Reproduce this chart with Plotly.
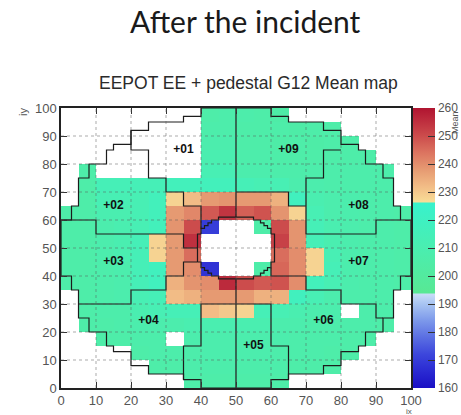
import plotly.graph_objects as go

FIG_TITLE = "After the incident"
MAP_TITLE = "EEPOT EE + pedestal G12 Mean map"
X_LABEL = "ix"
Y_LABEL = "iy"
Z_LABEL = "Mean"

# Mean pedestal per supercrystal (5x5 crystals), rows from iy 96-100 (top) down to iy 1-5
MEAN_ROWS_TOP_DOWN = [
    [None, None, None, None, None, None, None, None, 206, 207, 207, 206, 205, None, None, None, None, None, None, None],
    [None, None, None, None, None, None, None, None, 207, 207, 206, 206, 206, 205, 206, 206, None, None, None, None],
    [None, None, None, None, None, None, None, None, 208, 208, 206, 206, 205, 206, 205, 206, 206, None, None, None],
    [None, None, None, None, None, None, None, None, 210, 210, 207, 207, 206, 206, 206, 206, 206, 206, None, None],
    [None, 206, None, None, None, None, None, None, 212, 212, 208, 208, 207, 207, 207, 207, 207, 207, 207, None],
    [None, 206, 214, 214, 214, 214, 216, 216, 216, 216, 214, 212, 212, 208, 208, 207, 207, 207, 207, None],
    [None, 206, 212, 212, 212, 216, 228, 232, 238, 239, 238, 238, 234, 218, 210, 208, 208, 207, 207, None],
    [206, 206, 210, 210, 212, 216, 238, 241, 248, 254, 247, 249, 239, 228, 212, 208, 208, 207, 207, 206],
    [206, 206, 208, 210, 212, 216, 239, 250, 170, None, None, 206, 250, 239, 214, 210, 208, 207, 207, 206],
    [206, 206, 208, 210, 214, 228, 238, 255, None, None, None, None, 252, 239, 214, 210, 208, 207, 207, 206],
    [206, 206, 208, 210, 214, 228, 238, 245, None, None, None, None, 245, 240, 228, 212, 208, 207, 207, 206],
    [206, 206, 207, 208, 214, 218, 238, 240, 168, None, None, 206, 246, 240, 228, 214, 208, 207, 207, 206],
    [206, 206, 207, 208, 214, 218, 234, 239, 240, 256, 250, 248, 249, 240, 216, 212, 208, 207, 207, 206],
    [None, 206, 207, 208, 212, 214, 232, 234, 238, 238, 238, 234, 234, 218, 212, 208, 207, 207, 207, None],
    [None, 206, 207, 207, 210, 212, 214, 214, 232, 230, 228, 214, 212, 210, 208, 208, None, 207, 207, None],
    [None, 206, 206, 207, 208, 208, 208, 210, 210, 210, 210, 210, 208, 208, 207, 207, 207, 207, 206, None],
    [None, None, 206, 206, 207, 207, None, 208, 208, 208, 208, 208, 208, 207, 207, 207, 206, 206, None, None],
    [None, None, None, None, 206, 207, 207, 207, 208, 208, 208, 208, 207, 207, 207, 206, 206, None, None, None],
    [None, None, None, None, None, 206, 206, 207, 207, 207, 207, 207, 207, 206, 206, 206, None, None, None, None],
    [None, None, None, None, None, None, None, 206, 206, 206, 206, 206, 206, None, None, None, None, None, None, None],
]

SC_CENTERS = [2.5 + 5 * k for k in range(20)]
AXIS_TICKS = list(range(0, 101, 10))
CBAR_TICKS = list(range(160, 261, 10))
Z_MIN, Z_MAX = 160, 260

# EE+ crystal layout: ix bands of the left half and the lowest valid crystal edge in iy
OUTER_BAND_X = [0, 3, 5, 8, 13, 15, 20, 25, 35, 40, 50]
OUTER_BAND_YLO = [40, 35, 25, 20, 15, 13, 8, 5, 3, 0]
# inner hole: ix bands and the lower edge of the missing crystals
HOLE_BAND_X = [39, 40, 41, 42, 43, 45, 55, 57, 58, 59, 60, 61]
HOLE_BAND_YLO = [45, 43, 42, 41, 40, 39, 40, 41, 42, 43, 45]

# sector and Dee boundaries (crystal edges)
LINE_01_02_X = [20, 20, 25, 25, 30, 30, 35, 35, 40, 40]
LINE_01_02_Y = [92, 85, 85, 75, 75, 70, 70, 65, 65, 57]
LINE_02_03_X = [0, 10, 10, 35, 35, 39]
LINE_02_03_Y = [60, 60, 55, 55, 50, 50]
LINE_03_04_X = [5, 20, 20, 30, 30, 35, 35, 39]
LINE_03_04_Y = [30, 30, 35, 35, 40, 40, 45, 45]
LINE_04_05_X = [35, 35, 40, 40, 50]
LINE_04_05_Y = [3, 15, 15, 30, 30]
LINE_05_06_X = [50, 60, 60, 65, 65]
LINE_05_06_Y = [30, 30, 15, 15, 3]
LINE_06_07_X = [60, 60, 70, 70, 80, 80, 90, 90, 92]
LINE_06_07_Y = [43, 40, 40, 35, 35, 30, 30, 25, 25]
LINE_07_08_X = [70, 70, 90, 90, 97]
LINE_07_08_Y = [65, 55, 55, 60, 60]
LINE_07_09_X = [50, 65, 65, 70]
LINE_07_09_Y = [70, 70, 65, 65]
LINE_08_09_X = [70, 70, 75, 75, 80]
LINE_08_09_Y = [65, 75, 75, 85, 85]
DEE_TOP_X = [50, 50]
DEE_TOP_Y = [61, 100]
DEE_BOTTOM_X = [50, 50]
DEE_BOTTOM_Y = [0, 39]

SECTOR_NAMES = ["+01", "+02", "+03", "+04", "+05", "+06", "+07", "+08", "+09"]
SECTOR_LABEL_X = [35, 15, 15, 25, 55, 75, 85, 85, 65]
SECTOR_LABEL_Y = [85, 65, 45, 24, 15, 24, 45, 65, 85]

COLORSCALE_STOPS = [
    (160, "#1a0fc4"), (166, "#2a2ad2"), (172, "#3c46dc"), (178, "#5a6ee2"),
    (184, "#7c98ea"), (190, "#a8c4f2"), (193.5, "#c8dcf8"), (194, "#58e894"),
    (210, "#4aeeb0"), (226, "#38f2cc"), (226.5, "#f8dc96"), (232, "#f2bc86"),
    (238, "#e69a72"), (244, "#dc7460"), (250, "#cc4c4c"), (256, "#bc2a3c"),
    (260, "#b01430"),
]

# plot frame in pixels
FIG_W, FIG_H = 461, 415
PLOT_L, PLOT_R, PLOT_T, PLOT_B = 61, 411, 108, 388


def staircase(band_x, band_lo):
    """Closed outline of a region bounded below by band_lo and above by its mirror 100 - lo."""
    xs, ys = [], []
    for k, lo in enumerate(band_lo):
        xs += [band_x[k], band_x[k + 1]]
        ys += [lo, lo]
    for k in range(len(band_lo) - 1, -1, -1):
        xs += [band_x[k + 1], band_x[k]]
        ys += [100 - band_lo[k], 100 - band_lo[k]]
    xs.append(xs[0])
    ys.append(ys[0])
    return xs, ys


def px_to_paper(px, py):
    return ((px - PLOT_L) / (PLOT_R - PLOT_L), (PLOT_B - py) / (PLOT_B - PLOT_T))


full_band_x = OUTER_BAND_X + [100 - x for x in reversed(OUTER_BAND_X[:-1])]
full_band_lo = OUTER_BAND_YLO + list(reversed(OUTER_BAND_YLO))
outer_x, outer_y = staircase(full_band_x, full_band_lo)
hole_x, hole_y = staircase(HOLE_BAND_X, HOLE_BAND_YLO)

colorscale = [[(v - Z_MIN) / (Z_MAX - Z_MIN), c] for v, c in COLORSCALE_STOPS]
z_rows = list(reversed(MEAN_ROWS_TOP_DOWN))

FONT = "Liberation Sans, Arial, sans-serif"
LINE_COLOR = "#1c1c1c"

fig = go.Figure()
fig.add_trace(go.Heatmap(
    x=SC_CENTERS, y=SC_CENTERS, z=z_rows,
    zmin=Z_MIN, zmax=Z_MAX, colorscale=colorscale,
    hoverongaps=False,
    colorbar=dict(
        x=(413 - PLOT_L) / (PLOT_R - PLOT_L), xanchor="left", xpad=0, ypad=0,
        y=0.5, yanchor="middle", len=1.0, lenmode="fraction",
        thickness=22, outlinewidth=0,
        tickvals=CBAR_TICKS, ticks="inside", ticklen=7, tickcolor="#333333",
        tickfont=dict(family=FONT, size=12, color="#555555"),
    ),
))

line_sets = [
    (outer_x, outer_y), (hole_x, hole_y),
    (LINE_01_02_X, LINE_01_02_Y), (LINE_02_03_X, LINE_02_03_Y),
    (LINE_03_04_X, LINE_03_04_Y), (LINE_04_05_X, LINE_04_05_Y),
    (LINE_05_06_X, LINE_05_06_Y), (LINE_06_07_X, LINE_06_07_Y),
    (LINE_07_08_X, LINE_07_08_Y), (LINE_07_09_X, LINE_07_09_Y),
    (LINE_08_09_X, LINE_08_09_Y),
    (DEE_TOP_X, DEE_TOP_Y), (DEE_BOTTOM_X, DEE_BOTTOM_Y),
]
for lx, ly in line_sets:
    fig.add_trace(go.Scatter(x=lx, y=ly, mode="lines", hoverinfo="skip",
                             line=dict(color=LINE_COLOR, width=1.2), showlegend=False))

fig.add_trace(go.Scatter(
    x=SECTOR_LABEL_X, y=SECTOR_LABEL_Y, text=SECTOR_NAMES, mode="text",
    textfont=dict(family=FONT, size=12, color="#111111", weight="bold"),
    hoverinfo="skip", showlegend=False,
))

# dotted grid drawn over the map
for t in AXIS_TICKS[1:-1]:
    fig.add_shape(type="line", x0=t, x1=t, y0=0, y1=100, layer="above",
                  line=dict(color="rgba(90,90,90,0.5)", width=1, dash="dot"))
    fig.add_shape(type="line", x0=0, x1=100, y0=t, y1=t, layer="above",
                  line=dict(color="rgba(90,90,90,0.5)", width=1, dash="dot"))

axis_common = dict(
    range=[0, 100], tickvals=AXIS_TICKS, ticks="inside", ticklen=6,
    tickcolor="#333333", showgrid=False, zeroline=False,
    showline=True, linecolor="#222222", linewidth=1.5, mirror="ticks",
    tickfont=dict(family=FONT, size=13, color="#555555"),
)
fig.update_xaxes(**axis_common)
fig.update_yaxes(**axis_common)


def add_text(text, px, py, size, family=FONT, color="#555555", angle=0):
    ax, ay = px_to_paper(px, py)
    fig.add_annotation(text=text, xref="paper", yref="paper", x=ax, y=ay,
                       xanchor="center", yanchor="middle", showarrow=False,
                       textangle=angle, font=dict(family=family, size=size, color=color))


add_text(FIG_TITLE, 245, 21, 30, family="Lato, Open Sans, sans-serif", color="#1a1a1a")
add_text(MAP_TITLE, 248, 83, 17.5, color="#2a2a2a")
add_text(Y_LABEL, 23, 112, 11, angle=-90)
add_text(X_LABEL, 409, 411, 8)
add_text(Z_LABEL, 455, 123, 9, angle=-90)

fig.update_layout(
    width=FIG_W, height=FIG_H,
    margin=dict(l=PLOT_L, r=FIG_W - PLOT_R, t=PLOT_T, b=FIG_H - PLOT_B, autoexpand=False),
    paper_bgcolor="white", plot_bgcolor="white",
    showlegend=False,
)

fig.write_html("out.html")
